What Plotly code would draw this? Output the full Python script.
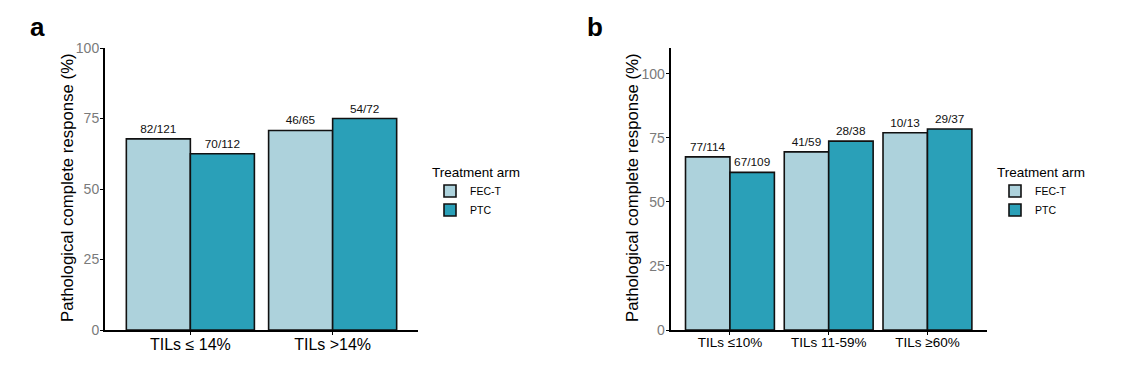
import plotly.graph_objects as go

# Panel a data
cats_a = ["TILs ≤ 14%", "TILs >14%"]
fect_n_a = [82, 46]
fect_d_a = [121, 65]
ptc_n_a = [70, 54]
ptc_d_a = [112, 72]

# Panel b data
cats_b = ["TILs ≤10%", "TILs 11-59%", "TILs ≥60%"]
fect_n_b = [77, 41, 10]
fect_d_b = [114, 59, 13]
ptc_n_b = [67, 28, 29]
ptc_d_b = [109, 38, 37]

arms = ["FEC-T", "PTC"]
colors = {"FEC-T": "#ADD2DC", "PTC": "#2AA0B8"}

W, H = 1125, 367
OX, OY = 8, 8  # page body margin offset
FONT = "Liberation Sans, Arial, sans-serif"

def px(p):
    return (p - OX) / W

def py(p):
    return 1 - (p - OY) / H

def pct(n, d):
    return [100.0 * a / b for a, b in zip(n, d)]

def lbl(n, d):
    return [f"{a}/{b}" for a, b in zip(n, d)]

fig = go.Figure()

def add_bars(cats, n, d, arm, xa, ya, legend, fs):
    fig.add_trace(go.Bar(
        x=cats, y=pct(n, d), name=arm,
        marker=dict(color=colors[arm], line=dict(color="#111111", width=1.6)),
        text=lbl(n, d), textposition="outside", constraintext="none",
        textfont=dict(family=FONT, size=fs, color="#111111"),
        cliponaxis=False, xaxis=xa, yaxis=ya, legend=legend,
        offsetgroup=arm,
    ))

add_bars(cats_a, fect_n_a, fect_d_a, "FEC-T", "x", "y", "legend", 11.8)
add_bars(cats_a, ptc_n_a, ptc_d_a, "PTC", "x", "y", "legend", 11.8)
add_bars(cats_b, fect_n_b, fect_d_b, "FEC-T", "x2", "y2", "legend2", 11.8)
add_bars(cats_b, ptc_n_b, ptc_d_b, "PTC", "x2", "y2", "legend2", 11.8)

ydom = [py(330), py(48)]
axis_common = dict(showline=True, linecolor="black", linewidth=2, showgrid=False,
                   zeroline=False, ticks="outside", ticklen=3, tickwidth=1, tickcolor="black",
                   automargin=False)

legend_common = dict(yanchor="top", xanchor="left",
                     title=dict(text="Treatment arm", font=dict(size=13.5, color="black")),
                     font=dict(size=10.5, color="black"), bgcolor="rgba(0,0,0,0)",
                     tracegroupgap=0, itemwidth=30)

fig.update_layout(
    width=W, height=H,
    margin=dict(l=0, r=0, t=0, b=0, autoexpand=False),
    paper_bgcolor="white", plot_bgcolor="white",
    barmode="group", bargap=0.1, bargroupgap=0,
    font=dict(family=FONT, color="black"),
    xaxis=dict(domain=[px(105), px(418)], anchor="y", type="category", range=[-0.6, 1.6],
               tickfont=dict(size=16, color="black"), ticklabelstandoff=-4, **axis_common),
    yaxis=dict(domain=ydom, anchor="x", range=[0, 100], tickvals=[0, 25, 50, 75, 100],
               tickfont=dict(size=14, color="#7a7a7a"), ticklabelstandoff=-2, **axis_common),
    xaxis2=dict(domain=[px(670.7), px(986.7)], anchor="y2", type="category", range=[-0.6, 2.6],
                tickfont=dict(size=13.5, color="black"), ticklabelstandoff=-4, **axis_common),
    yaxis2=dict(domain=ydom, anchor="x2", range=[0, 110], tickvals=[0, 25, 50, 75, 100],
                tickfont=dict(size=14, color="#7a7a7a"), ticklabelstandoff=-2, **axis_common),
    legend=dict(x=px(430), y=py(159), **legend_common),
    legend2=dict(x=px(995), y=py(159), **legend_common),
    showlegend=True,
)

annots = [
    dict(text="<b>a</b>", x=px(37), y=py(27), font=dict(size=26)),
    dict(text="<b>b</b>", x=px(595), y=py(27), font=dict(size=26)),
    dict(text="Pathological complete response (%)", x=px(67), y=py(188),
         textangle=-90, font=dict(size=16.8)),
    dict(text="Pathological complete response (%)", x=px(632), y=py(188),
         textangle=-90, font=dict(size=16.8)),
]
for a in annots:
    fig.add_annotation(xref="paper", yref="paper", showarrow=False,
                       xanchor="center", yanchor="middle", **a)

fig.write_html("out.html")
